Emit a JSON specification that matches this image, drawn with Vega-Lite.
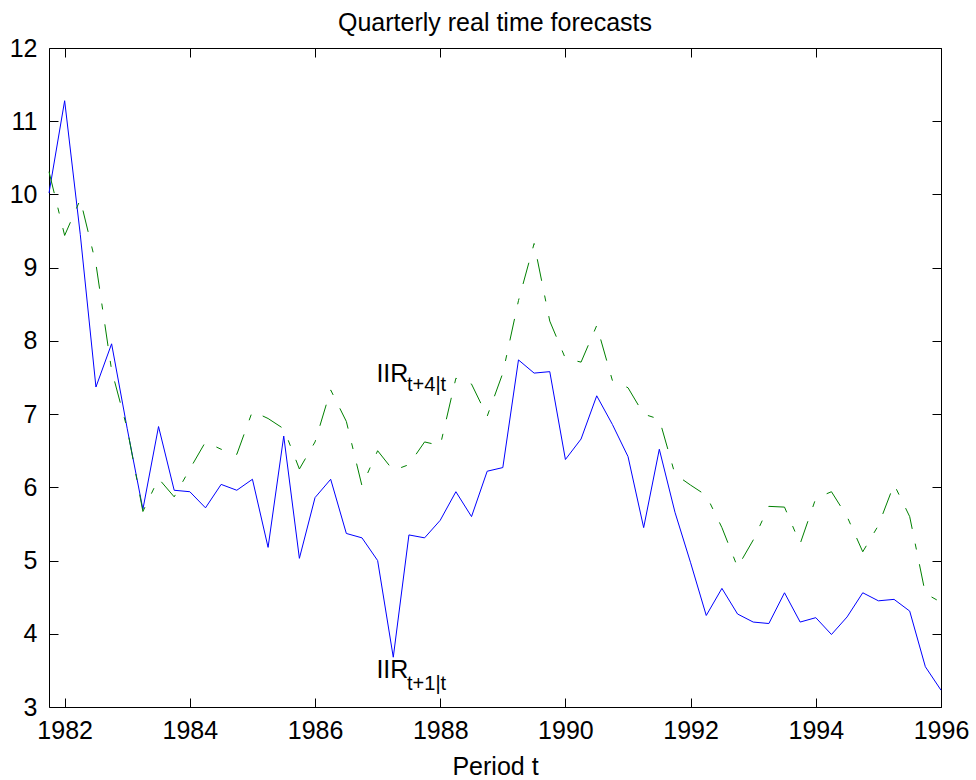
{
  "$schema": "https://vega.github.io/schema/vega-lite/v6.json",
  "width": 892,
  "height": 659,
  "autosize": {"type": "none"},
  "padding": {"left": 49, "top": 48, "right": 35, "bottom": 73},
  "background": "white",
  "config": {
    "view": {"stroke": "#000", "strokeWidth": 1},
    "font": "Liberation Sans",
    "axis": {
      "grid": false, "domain": false, "tickColor": "#000", "labelColor": "#000", "titleColor": "#000",
      "labelFont": "Liberation Sans", "titleFont": "Liberation Sans", "labelFontSize": 25, "titleFontSize": 25,
      "titleFontWeight": "normal", "tickSize": -9, "tickWidth": 1, "labelFlush": false, "labelOverlap": false
    }
  },
  "title": {"text": "Quarterly real time forecasts", "fontSize": 25, "fontWeight": "normal", "font": "Liberation Sans", "color": "#000", "baseline": "bottom", "offset": 12, "dy": 37, "anchor": "middle"},
  "datasets": {
    "series": [
      {"t": 1981.75, "h1": 10.02, "h4": 10.31},
      {"t": 1982.00, "h1": 11.28, "h4": 9.44},
      {"t": 1982.25, "h1": 9.45, "h4": 9.93},
      {"t": 1982.50, "h1": 7.37, "h4": 9.05},
      {"t": 1982.75, "h1": 7.96, "h4": 7.60},
      {"t": 1983.00, "h1": 6.80, "h4": 6.80},
      {"t": 1983.25, "h1": 5.70, "h4": 5.67},
      {"t": 1983.50, "h1": 6.83, "h4": 6.12},
      {"t": 1983.75, "h1": 5.96, "h4": 5.87},
      {"t": 1984.00, "h1": 5.94, "h4": 6.25},
      {"t": 1984.25, "h1": 5.72, "h4": 6.62},
      {"t": 1984.50, "h1": 6.04, "h4": 6.52},
      {"t": 1984.75, "h1": 5.96, "h4": 6.45},
      {"t": 1985.00, "h1": 6.11, "h4": 7.04},
      {"t": 1985.25, "h1": 5.18, "h4": 6.94},
      {"t": 1985.50, "h1": 6.70, "h4": 6.80},
      {"t": 1985.75, "h1": 5.03, "h4": 6.25},
      {"t": 1986.00, "h1": 5.86, "h4": 6.62},
      {"t": 1986.25, "h1": 6.11, "h4": 7.33},
      {"t": 1986.50, "h1": 5.37, "h4": 6.90},
      {"t": 1986.75, "h1": 5.31, "h4": 6.02},
      {"t": 1987.00, "h1": 5.00, "h4": 6.50},
      {"t": 1987.25, "h1": 3.68, "h4": 6.23},
      {"t": 1987.50, "h1": 5.35, "h4": 6.31},
      {"t": 1987.75, "h1": 5.31, "h4": 6.62},
      {"t": 1988.00, "h1": 5.55, "h4": 6.57},
      {"t": 1988.25, "h1": 5.94, "h4": 7.49},
      {"t": 1988.50, "h1": 5.60, "h4": 7.41},
      {"t": 1988.75, "h1": 6.22, "h4": 6.97},
      {"t": 1989.00, "h1": 6.27, "h4": 7.56},
      {"t": 1989.25, "h1": 7.74, "h4": 8.55},
      {"t": 1989.50, "h1": 7.56, "h4": 9.33},
      {"t": 1989.75, "h1": 7.58, "h4": 8.27},
      {"t": 1990.00, "h1": 6.38, "h4": 7.76},
      {"t": 1990.25, "h1": 6.66, "h4": 7.71},
      {"t": 1990.50, "h1": 7.25, "h4": 8.21},
      {"t": 1990.75, "h1": 6.86, "h4": 7.46},
      {"t": 1991.00, "h1": 6.42, "h4": 7.36},
      {"t": 1991.25, "h1": 5.45, "h4": 7.00},
      {"t": 1991.50, "h1": 6.52, "h4": 6.93},
      {"t": 1991.75, "h1": 5.66, "h4": 6.18},
      {"t": 1992.00, "h1": 4.97, "h4": 6.03},
      {"t": 1992.25, "h1": 4.25, "h4": 5.89},
      {"t": 1992.50, "h1": 4.62, "h4": 5.45},
      {"t": 1992.75, "h1": 4.27, "h4": 4.91},
      {"t": 1993.00, "h1": 4.16, "h4": 5.28},
      {"t": 1993.25, "h1": 4.14, "h4": 5.74},
      {"t": 1993.50, "h1": 4.56, "h4": 5.73},
      {"t": 1993.75, "h1": 4.16, "h4": 5.23},
      {"t": 1994.00, "h1": 4.22, "h4": 5.85},
      {"t": 1994.25, "h1": 3.99, "h4": 5.94},
      {"t": 1994.50, "h1": 4.23, "h4": 5.60},
      {"t": 1994.75, "h1": 4.56, "h4": 5.12},
      {"t": 1995.00, "h1": 4.45, "h4": 5.48},
      {"t": 1995.25, "h1": 4.47, "h4": 6.04},
      {"t": 1995.50, "h1": 4.31, "h4": 5.60},
      {"t": 1995.75, "h1": 3.55, "h4": 4.55},
      {"t": 1996.00, "h1": 3.23, "h4": 4.43}
    ],
    "labels": [
      {"t": 1986.98, "v": 7.44, "label": "IIR"},
      {"t": 1986.98, "v": 3.39, "label": "IIR"}
    ],
    "subs": [
      {"t": 1987.47, "v": 7.31, "label": "t+4|t"},
      {"t": 1987.47, "v": 3.23, "label": "t+1|t"}
    ]
  },
  "layer": [
    {
      "data": {"name": "series"},
      "mark": {"type": "line", "color": "#0000ff", "strokeWidth": 1},
      "encoding": {
        "x": {"field": "t", "type": "quantitative", "scale": {"domain": [1981.75, 1996], "nice": false, "zero": false},
          "axis": {"orient": "bottom", "values": [1982, 1984, 1986, 1988, 1990, 1992, 1994, 1996], "format": "d", "labelPadding": 20, "title": "Period t", "titleY": 67, "titleBaseline": "alphabetic"}},
        "y": {"field": "h1", "type": "quantitative", "scale": {"domain": [3, 12], "nice": false, "zero": false},
          "axis": {"orient": "left", "values": [3, 4, 5, 6, 7, 8, 9, 10, 11, 12], "labelPadding": 21, "title": null}}
      }
    },
    {
      "data": {"name": "series"},
      "mark": {"type": "line", "color": "#008000", "strokeWidth": 1, "strokeDash": [22, 15, 6, 15]},
      "encoding": {
        "x": {"field": "t", "type": "quantitative", "scale": {"domain": [1981.75, 1996], "nice": false, "zero": false},
          "axis": {"orient": "top", "values": [1982, 1984, 1986, 1988, 1990, 1992, 1994, 1996], "labels": false, "title": null}},
        "y": {"field": "h4", "type": "quantitative", "scale": {"domain": [3, 12], "nice": false, "zero": false},
          "axis": {"orient": "right", "values": [3, 4, 5, 6, 7, 8, 9, 10, 11, 12], "labels": false, "title": null}}
      }
    },
    {
      "data": {"name": "labels"},
      "mark": {"type": "text", "align": "left", "baseline": "alphabetic", "fontSize": 25, "font": "Liberation Sans", "color": "#000"},
      "encoding": {
        "x": {"field": "t", "type": "quantitative", "scale": {"domain": [1981.75, 1996], "nice": false, "zero": false}, "axis": null},
        "y": {"field": "v", "type": "quantitative", "scale": {"domain": [3, 12], "nice": false, "zero": false}, "axis": null},
        "text": {"field": "label"}
      }
    },
    {
      "data": {"name": "subs"},
      "mark": {"type": "text", "align": "left", "baseline": "alphabetic", "fontSize": 20, "font": "Liberation Sans", "color": "#000"},
      "encoding": {
        "x": {"field": "t", "type": "quantitative", "scale": {"domain": [1981.75, 1996], "nice": false, "zero": false}, "axis": null},
        "y": {"field": "v", "type": "quantitative", "scale": {"domain": [3, 12], "nice": false, "zero": false}, "axis": null},
        "text": {"field": "label"}
      }
    }
  ],
  "resolve": {"axis": {"x": "independent", "y": "independent"}}
}
